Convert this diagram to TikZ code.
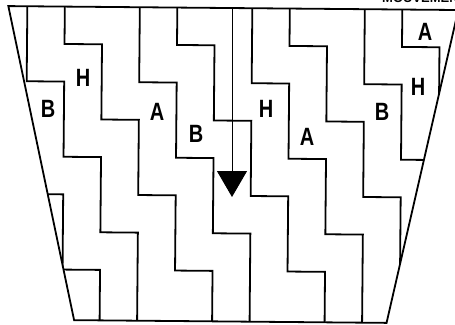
\documentclass[tikz,border=0pt]{standalone}
\usepackage{fontspec}
\setmainfont{Liberation Sans}
\usetikzlibrary{arrows.meta}
\begin{document}
\begin{tikzpicture}[x=1pt,y=-1pt,
  wall/.style={line width=1.8pt, line join=miter, line cap=rect},
  lbl/.style={font=\bfseries\fontsize{25}{25}\selectfont, inner sep=0pt},
  toptext/.style={font=\bfseries\fontsize{13}{13}\selectfont, inner sep=0pt, anchor=base west}]
\useasboundingbox (0,0) rectangle (455,324);
\fill[white] (0,0) rectangle (455,324);
\begin{scope}[rotate around={-0.5:(227,160)}]
  \coordinate (tl) at (7,8);
  \coordinate (tr) at (457,8);
  \coordinate (br) at (388,321.5);
  \coordinate (bl) at (75.5,321.5);
  \begin{scope}
    \clip (tl) -- (tr) -- (br) -- (bl) -- cycle;
    \foreach \c in {5,2,-1,-4,-7,-10,-13,-16,-19} {
      \pgfmathtruncatemacro\ia{floor((-\c-2)/2)}
      \pgfmathtruncatemacro\ib{floor((7-\c)/2)}
      \draw[wall] ({26+37.5*\ia},{7.8+37.6*(2*\ia+\c-2)})
        \foreach \i in {\ia,...,\ib} {
          -- ({26+37.5*\i},{7.8+37.6*(2*\i+\c)})
          -- ({26+37.5*(\i+1)},{7.8+37.6*(2*\i+\c)})
        }
        -- ({26+37.5*(\ib+1)},{7.8+37.6*9.5});
    }
  \end{scope}
  \draw[wall] (tl) -- (tr) -- (br) -- (bl) -- cycle;
\end{scope}
% arrow
\coordinate (atop) at (232,8.5);
\coordinate (atip) at (232,197);
\draw[line width=0.9pt, -{Triangle[length=26pt,width=30pt]}] (atop) -- (atip);
% labels
\node[lbl] (h1) at (83,78) {\scalebox{0.8}[1]{H}};
\node[lbl] (b1) at (48,109) {\scalebox{0.8}[1]{B}};
\node[lbl] (a1) at (157,112) {\scalebox{0.8}[1]{A}};
\node[lbl] (b2) at (196,134) {\scalebox{0.8}[1]{B}};
\node[lbl] (h2) at (266,109) {\scalebox{0.8}[1]{H}};
\node[lbl] (a2) at (307,137) {\scalebox{0.8}[1]{A}};
\node[lbl] (b3) at (382,112) {\scalebox{0.8}[1]{B}};
\node[lbl] (h3) at (418,87) {\scalebox{0.8}[1]{H}};
\node[lbl] (a3) at (425,32) {\scalebox{0.8}[1]{A}};
% cut-off heading at the top edge
\node[toptext] (head) at (382,2.5) {MOUVEMENT};
\end{tikzpicture}
\end{document}
